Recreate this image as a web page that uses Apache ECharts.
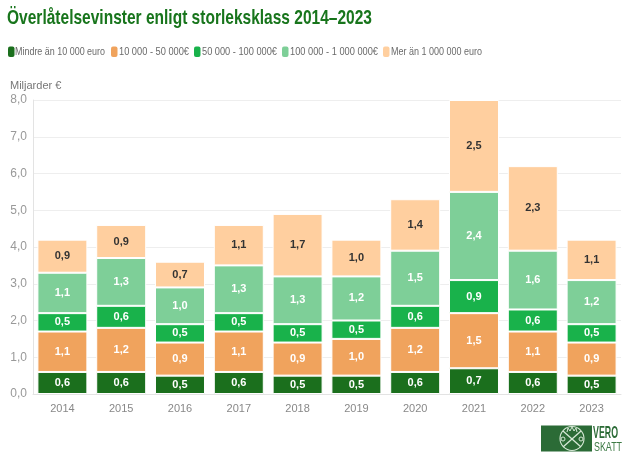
<!DOCTYPE html>
<html><head><meta charset="utf-8">
<script src="https://cdn.jsdelivr.net/npm/echarts@6/dist/echarts.min.js"></script>
<style>html,body{margin:0;padding:0;background:#fff}#c{width:643px;height:465px}</style>
</head><body><div id="c"></div>
<script>
const years = ['2014','2015','2016','2017','2018','2019','2020','2021','2022','2023'];
const seriesNames = ['Mindre än 10 000 euro','10 000 - 50 000€','50 000 - 100 000€','100 000 - 1 000 000€','Mer än 1 000 000 euro'];
const s1 = [0.6,0.6,0.5,0.6,0.5,0.5,0.6,0.7,0.6,0.5];
const s2 = [1.1,1.2,0.9,1.1,0.9,1.0,1.2,1.5,1.1,0.9];
const s3 = [0.5,0.6,0.5,0.5,0.5,0.5,0.6,0.9,0.6,0.5];
const s4 = [1.1,1.3,1.0,1.3,1.3,1.2,1.5,2.4,1.6,1.2];
const s5 = [0.9,0.9,0.7,1.1,1.7,1.0,1.4,2.5,2.3,1.1];
const yTicks = ['0,0','1,0','2,0','3,0','4,0','5,0','6,0','7,0','8,0'];
const titleText = 'Överlåtelsevinster enligt storleksklass 2014–2023';

const colors = ['#1b6f1d','#f0a35d','#19b24b','#7ecf98','#ffcf9f'];
const labelColors = ['#fff','#fff','#fff','#fff','#333'];
const FONT = '"Liberation Sans",Arial,sans-serif';
const data = [s1,s2,s3,s4,s5];

const mctx = document.createElement('canvas').getContext('2d');
function fitText(text, font, x, y, width, fill, vAlign) {
  mctx.font = font;
  const w = mctx.measureText(text).width;
  return {type:'text', x:x, y:y, scaleX: width / w, silent:true,
    style:{text:text, x:0, y:0, font:font, fill:fill, align:'left', verticalAlign:vAlign||'middle'}};
}

// legend layout: [iconX, textX, textWidth]
const legendLayout = [[8,15,90],[111,119,70],[194,202,75],[282,290,88],[383,391,91]];
const graphics = [];
graphics.push(fitText(titleText, 'bold 21px "Liberation Sans"', 7, 18.5, 365, '#18751c'));
seriesNames.forEach((n,i)=>{
  const L = legendLayout[i];
  graphics.push({type:'rect', x:L[0], y:46.5, silent:true, shape:{width:6.5, height:10.5, r:2}, style:{fill:colors[i]}});
  graphics.push(fitText(n, '11.5px "Liberation Sans"', L[1], 51.5, L[2], '#6a6a6a'));
});
// logo
const LC = '#d6e8d6';
graphics.push({type:'rect', x:541, y:425.5, silent:true, shape:{width:51, height:26}, style:{fill:'#2b6b36'}});
graphics.push({type:'circle', silent:true, shape:{cx:572, cy:438.5, r:12}, style:{fill:'none', stroke:LC, lineWidth:1.1}});
graphics.push({type:'line', silent:true, shape:{x1:563, y1:431, x2:581, y2:447}, style:{stroke:LC, lineWidth:1.4}});
graphics.push({type:'line', silent:true, shape:{x1:581, y1:431, x2:563, y2:447}, style:{stroke:LC, lineWidth:1.4}});
graphics.push({type:'polyline', silent:true, shape:{points:[[567,432],[568,428],[570,431],[572,427],[574,431],[576,428],[577,432]]}, style:{fill:'none', stroke:LC, lineWidth:1}});
graphics.push({type:'circle', silent:true, shape:{cx:563, cy:439, r:2}, style:{fill:'none', stroke:LC, lineWidth:1}});
graphics.push({type:'circle', silent:true, shape:{cx:581, cy:439, r:2}, style:{fill:'none', stroke:LC, lineWidth:1}});
graphics.push(fitText('VERO', 'bold 17px "Liberation Sans"', 593, 433, 25, '#2b6b36'));
graphics.push(fitText('SKATT', '12px "Liberation Sans"', 594, 447.5, 28, '#3d7a45'));

const chart = echarts.init(document.getElementById('c'));
chart.setOption({
  animation:false,
  textStyle:{fontFamily:FONT},
  legend:{show:false, data:seriesNames},
  grid:{left:33,right:22,top:100,bottom:71,containLabel:false},
  xAxis:{type:'category',data:years,
    axisLine:{lineStyle:{color:'#e3e3e3'}},axisTick:{show:false},
    axisLabel:{color:'#888',fontSize:11,margin:9,fontFamily:FONT}},
  yAxis:{type:'value',min:0,max:8,interval:1,name:'Miljarder €',
    nameLocation:'end',nameGap:9,nameTextStyle:{color:'#777',fontSize:11,align:'left',padding:[0,0,0,-23],fontFamily:FONT},
    axisLine:{show:true,lineStyle:{color:'#e3e3e3'}},
    splitLine:{lineStyle:{color:'#eeeeee'}},
    axisLabel:{color:'#999',fontSize:12,margin:6,fontFamily:FONT,formatter:(v)=>yTicks[Math.round(v)]}},
  series:data.map((d,i)=>({
    name:seriesNames[i],type:'bar',stack:'t',data:d,barCategoryGap:'15%',
    itemStyle:{color:colors[i],borderColor:'#fff',borderWidth:1},
    label:{show:true,position:'inside',color:labelColors[i],fontSize:11,fontWeight:'bold',
      fontFamily:FONT,
      formatter:(p)=>p.value.toFixed(1).replace('.',',')}
  })),
  graphic:graphics
});
</script></body></html>
